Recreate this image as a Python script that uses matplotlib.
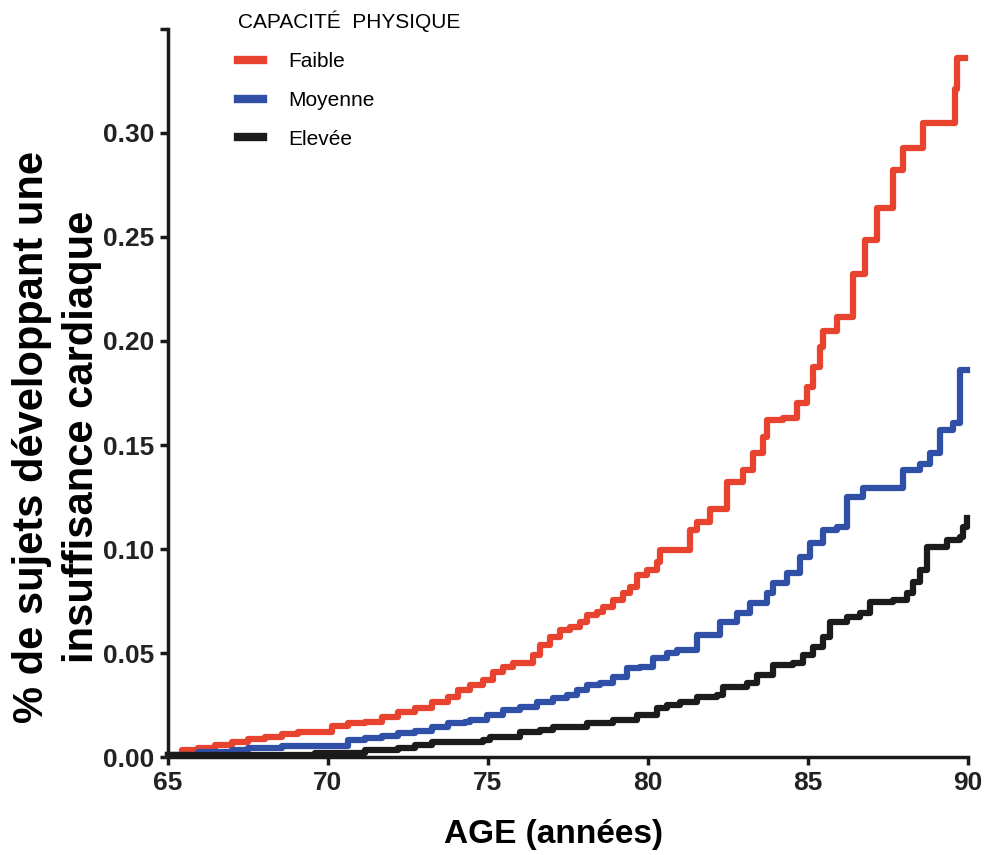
import matplotlib.pyplot as plt
from matplotlib.ticker import FixedLocator, FixedFormatter

# cumulative incidence (age, fraction)
faible_age = [65.0, 65.44, 65.94, 66.47, 67.0, 67.5, 68.03, 68.56, 69.06, 70.13,
              70.63, 71.16, 71.69, 72.19, 72.72, 73.25, 73.75, 74.06, 74.44, 74.84,
              75.16, 75.47, 75.78, 76.41, 76.63, 76.94, 77.25, 77.56, 77.88, 78.09,
              78.41, 78.59, 78.91, 79.22, 79.44, 79.66, 79.97, 80.28, 80.38, 81.31,
              81.53, 81.94, 82.47, 82.97, 83.28, 83.59, 83.72, 84.22, 84.66, 84.97,
              85.16, 85.38, 85.47, 85.91, 86.41, 86.78, 87.16, 87.66, 87.97, 88.59,
              89.59, 89.66, 89.9]
faible_val = [0.001, 0.0034, 0.0043, 0.0058, 0.0072, 0.0087, 0.0096, 0.0111, 0.012, 0.0149,
              0.0163, 0.0168, 0.0192, 0.0216, 0.0236, 0.0264, 0.0288, 0.0322, 0.0346, 0.037,
              0.0409, 0.0433, 0.0452, 0.049, 0.0538, 0.0577, 0.0611, 0.0625, 0.0649, 0.0683,
              0.0697, 0.0721, 0.0755, 0.0788, 0.0817, 0.0875, 0.0899, 0.0938, 0.0995, 0.109,
              0.113, 0.119, 0.132, 0.138, 0.146, 0.154, 0.162, 0.163, 0.170, 0.178,
              0.1875, 0.197, 0.205, 0.2115, 0.232, 0.2485, 0.264, 0.282, 0.293, 0.305,
              0.321, 0.336, 0.336]

moyenne_age = [65.0, 65.94, 67.0, 67.5, 68.56, 69.06, 70.63, 71.16, 71.69, 72.19,
               72.72, 73.25, 73.75, 74.28, 74.44, 74.97, 75.47, 76.0, 76.53, 77.03,
               77.47, 77.78, 78.09, 78.5, 78.91, 79.34, 79.75, 80.16, 80.59, 80.9,
               81.53, 82.25, 82.78, 83.19, 83.72, 83.91, 84.34, 84.75, 85.06, 85.47,
               85.91, 86.22, 86.72, 87.97, 88.5, 88.81, 89.13, 89.53, 89.75, 89.97]
moyenne_val = [0.001, 0.0024, 0.0034, 0.0043, 0.0053, 0.0053, 0.0082, 0.0091, 0.0101, 0.0115,
               0.0125, 0.0144, 0.0163, 0.0168, 0.0178, 0.0202, 0.0226, 0.024, 0.0264, 0.0284,
               0.0298, 0.0322, 0.0346, 0.0356, 0.0385, 0.0428, 0.0433, 0.0476, 0.05, 0.0514,
               0.0587, 0.0649, 0.0692, 0.074, 0.0788, 0.0837, 0.0885, 0.0962, 0.1029, 0.109,
               0.1106, 0.125, 0.1293, 0.138, 0.141, 0.146, 0.157, 0.1606, 0.186, 0.186]

elevee_age = [65.0, 69.6, 71.16, 72.19, 72.72, 73.25, 74.84, 75.06, 75.28, 76.0,
              76.63, 77.03, 77.66, 78.09, 78.5, 78.91, 79.66, 80.28, 80.59, 81.0,
              81.53, 82.16, 82.34, 83.09, 83.41, 83.91, 84.53, 84.84, 85.16, 85.47,
              85.69, 86.22, 86.63, 86.94, 87.66, 88.09, 88.28, 88.5, 88.72, 89.34,
              89.75, 89.84, 89.97]
elevee_val = [0.001, 0.002, 0.0034, 0.0043, 0.0058, 0.0072, 0.0082, 0.0096, 0.0096, 0.012,
              0.013, 0.0144, 0.0144, 0.0163, 0.0163, 0.0178, 0.0202, 0.0236, 0.025, 0.0264,
              0.0288, 0.0298, 0.0337, 0.0356, 0.0394, 0.0442, 0.0452, 0.049, 0.0529, 0.0577,
              0.0649, 0.0673, 0.0692, 0.0745, 0.0755, 0.0788, 0.0841, 0.0899, 0.101, 0.1043,
              0.1058, 0.1106, 0.115]

x_ticks = [65, 70, 75, 80, 85, 90]
y_ticks = [0.0, 0.05, 0.10, 0.15, 0.20, 0.25, 0.30, 0.35]
y_labels = ['0.00', '0.05', '0.10', '0.15', '0.20', '0.25', '0.30', '']

plt.rcParams['font.family'] = ['Liberation Sans', 'DejaVu Sans']

fig = plt.figure(figsize=(9.86, 8.55), dpi=100)
ax = fig.add_axes([168/986, 1 - 757/855, 800/986, 728/855])

ax.step(faible_age, faible_val, where='post', color='#e8432e', lw=4.5, label='Faible', clip_on=False)
ax.step(moyenne_age, moyenne_val, where='post', color='#3050a8', lw=4.5, label='Moyenne', clip_on=False)
ax.step(elevee_age, elevee_val, where='post', color='#1c1a1a', lw=4.5, label='Elevée', clip_on=False)

ax.set_xlim(65, 90)
ax.set_ylim(0, 0.35)
ax.xaxis.set_major_locator(FixedLocator(x_ticks))
ax.yaxis.set_major_locator(FixedLocator(y_ticks))
ax.yaxis.set_major_formatter(FixedFormatter(y_labels))

for s in ['top', 'right']:
    ax.spines[s].set_visible(False)
for s in ['left', 'bottom']:
    ax.spines[s].set_linewidth(2.5)
    ax.spines[s].set_color('#1a1a1a')

ax.tick_params(direction='out', length=6, width=2.5, color='#1a1a1a', labelsize=19, pad=4)
for lab in ax.get_xticklabels() + ax.get_yticklabels():
    lab.set_fontweight('bold')
    lab.set_color('#222222')

ax.set_xlabel('AGE (années)', fontsize=24, fontweight='bold')
ax.xaxis.set_label_coords(0.4825, -0.085)
ax.set_ylabel('% de sujets développant une\ninsuffisance cardiaque', fontsize=30,
              fontweight='bold', linespacing=1.3)
ax.yaxis.set_label_coords(-0.083, 0.44)

leg = ax.legend(title='CAPACITÉ  PHYSIQUE', loc='upper left', frameon=False,
                bbox_to_anchor=(219/986, 1 + 8/855), bbox_transform=fig.transFigure,
                fontsize=15, title_fontsize=15, handlelength=1.2, handletextpad=1.2,
                labelspacing=0.95, alignment='left')
for h in leg.get_lines():
    h.set_linewidth(6)

fig.savefig('out.png', dpi=100)
